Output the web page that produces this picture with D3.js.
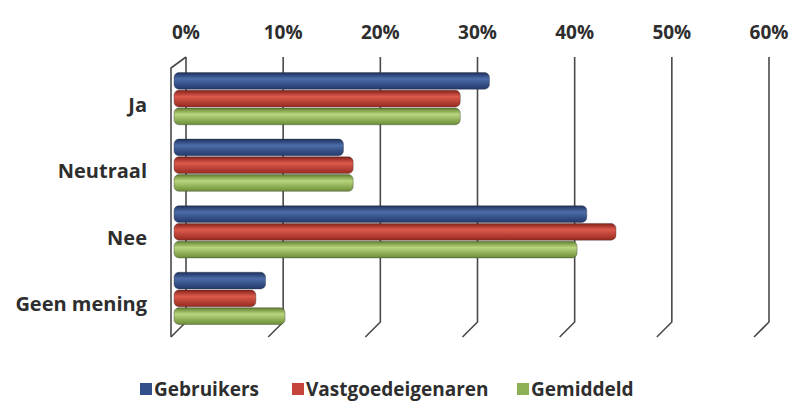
<!DOCTYPE html>
<html>
<head>
<meta charset="utf-8">
<script src="https://cdn.jsdelivr.net/npm/d3@7"></script>
<style>
  body { margin: 0; background: #fff; }
  text { font-family: "Open Sans", sans-serif; font-weight: bold; fill: #2e2e2e; }
</style>
</head>
<body>
<div id="chart"></div>
<script>
// Categories, series and values (fraction of respondents)
var categories = ["Ja", "Neutraal", "Nee", "Geen mening"];
var seriesNames = ["Gebruikers", "Vastgoedeigenaren", "Gemiddeld"];
var gebruikers = [0.32, 0.17, 0.42, 0.09];
var vastgoedeigenaren = [0.29, 0.18, 0.45, 0.08];
var gemiddeld = [0.29, 0.18, 0.41, 0.11];
var ticks = [0, 0.1, 0.2, 0.3, 0.4, 0.5, 0.6];

var seriesValues = [gebruikers, vastgoedeigenaren, gemiddeld];
var colors = {
	"Gebruikers": ["#1c305e", "#4d6ca8", "#22396c"],
	"Vastgoedeigenaren": ["#862019", "#dc5a4c", "#96291f"],
	"Gemiddeld": ["#5f7f2c", "#b9d67e", "#6b8d35"]
};
var legendColors = { "Gebruikers": "#34508c", "Vastgoedeigenaren": "#c4433a", "Gemiddeld": "#8cb053" };

var width = 793, height = 402;
var depthX = -15, depthY = 15; // offset from back wall to front of the floor
var backTop = 57, backBottom = 322;

var svg = d3.select("#chart")
	.append("svg")
	.attr("width", width)
	.attr("height", height);

// Gradients for the cylinder look
var defs = svg.append("defs");
seriesNames.forEach(function(s, i) {
	var g = defs.append("linearGradient")
		.attr("id", "grad" + i)
		.attr("x1", 0).attr("y1", 0).attr("x2", 0).attr("y2", 1);
	g.append("stop").attr("offset", "0%").attr("stop-color", colors[s][0]);
	g.append("stop").attr("offset", "38%").attr("stop-color", colors[s][1]);
	g.append("stop").attr("offset", "100%").attr("stop-color", colors[s][2]);
});

// Back wall scale (gridlines) and bar scale (middle depth)
var x = d3.scaleLinear().domain([0, 0.6]).range([186, 769]);
var xBar = d3.scaleLinear().domain([0, 0.6]).range([178, 762]);

var y = d3.scaleBand()
	.domain(categories)
	.range([72, 325])
	.paddingInner(0.2)
	.paddingOuter(0);

var ySub = d3.scaleBand()
	.domain(seriesNames)
	.range([0, y.bandwidth()]);

// Gridlines with slanted floor segment
var grid = svg.append("g")
	.attr("fill", "none")
	.attr("stroke", "#4a4a4a")
	.attr("stroke-width", 1.6);

grid.selectAll("path.grid")
	.data(ticks)
	.enter()
	.append("path")
	.attr("class", "grid")
	.attr("d", function(d) {
		return "M" + x(d) + "," + backTop + "L" + x(d) + "," + backBottom +
			"L" + (x(d) + depthX) + "," + (backBottom + depthY);
	});

// Left wall front edge and top edge
grid.append("path")
	.attr("d", "M" + (x(0) + depthX) + "," + (backBottom + depthY) +
		"L" + (x(0) + depthX) + "," + (backTop + 11) +
		"L" + x(0) + "," + backTop);

// Tick labels on top
svg.append("g")
	.selectAll("text")
	.data(ticks)
	.enter()
	.append("text")
	.attr("x", function(d) { return x(d); })
	.attr("y", 39)
	.attr("text-anchor", "middle")
	.attr("font-size", 19)
	.text(function(d) { return Math.round(d * 100) + "%"; });

// Category labels
svg.append("g")
	.selectAll("text")
	.data(categories)
	.enter()
	.append("text")
	.attr("x", 147)
	.attr("y", function(d) { return y(d) + y.bandwidth() / 2 + 13; })
	.attr("text-anchor", "end")
	.attr("font-size", 20)
	.text(function(d) { return d; });

// Bars
var groups = svg.append("g")
	.selectAll("g")
	.data(categories)
	.enter()
	.append("g")
	.attr("transform", function(d) { return "translate(0," + y(d) + ")"; });

groups.selectAll("rect")
	.data(function(d, ci) {
		return seriesNames.map(function(s, si) {
			return { series: s, index: si, value: seriesValues[si][ci] };
		});
	})
	.enter()
	.append("rect")
	.attr("x", xBar(0) - 4)
	.attr("y", function(d) { return ySub(d.series) + 0.5; })
	.attr("width", function(d) { return xBar(d.value) - xBar(0) + 4; })
	.attr("height", ySub.bandwidth() - 1)
	.attr("rx", 5)
	.attr("fill", function(d) { return "url(#grad" + d.index + ")"; })
	.attr("stroke", "#333")
	.attr("stroke-opacity", 0.45)
	.attr("stroke-width", 0.8);

// Legend
var legendX = [140, 292, 517];
var legend = svg.append("g")
	.selectAll("g")
	.data(seriesNames)
	.enter()
	.append("g")
	.attr("transform", function(d, i) { return "translate(" + legendX[i] + ",383)"; });

legend.append("rect")
	.attr("width", 12)
	.attr("height", 12)
	.attr("fill", function(d) { return legendColors[d]; });

legend.append("text")
	.attr("x", 14)
	.attr("y", 13)
	.attr("font-size", 19)
	.text(function(d) { return d; });
</script>
</body>
</html>
